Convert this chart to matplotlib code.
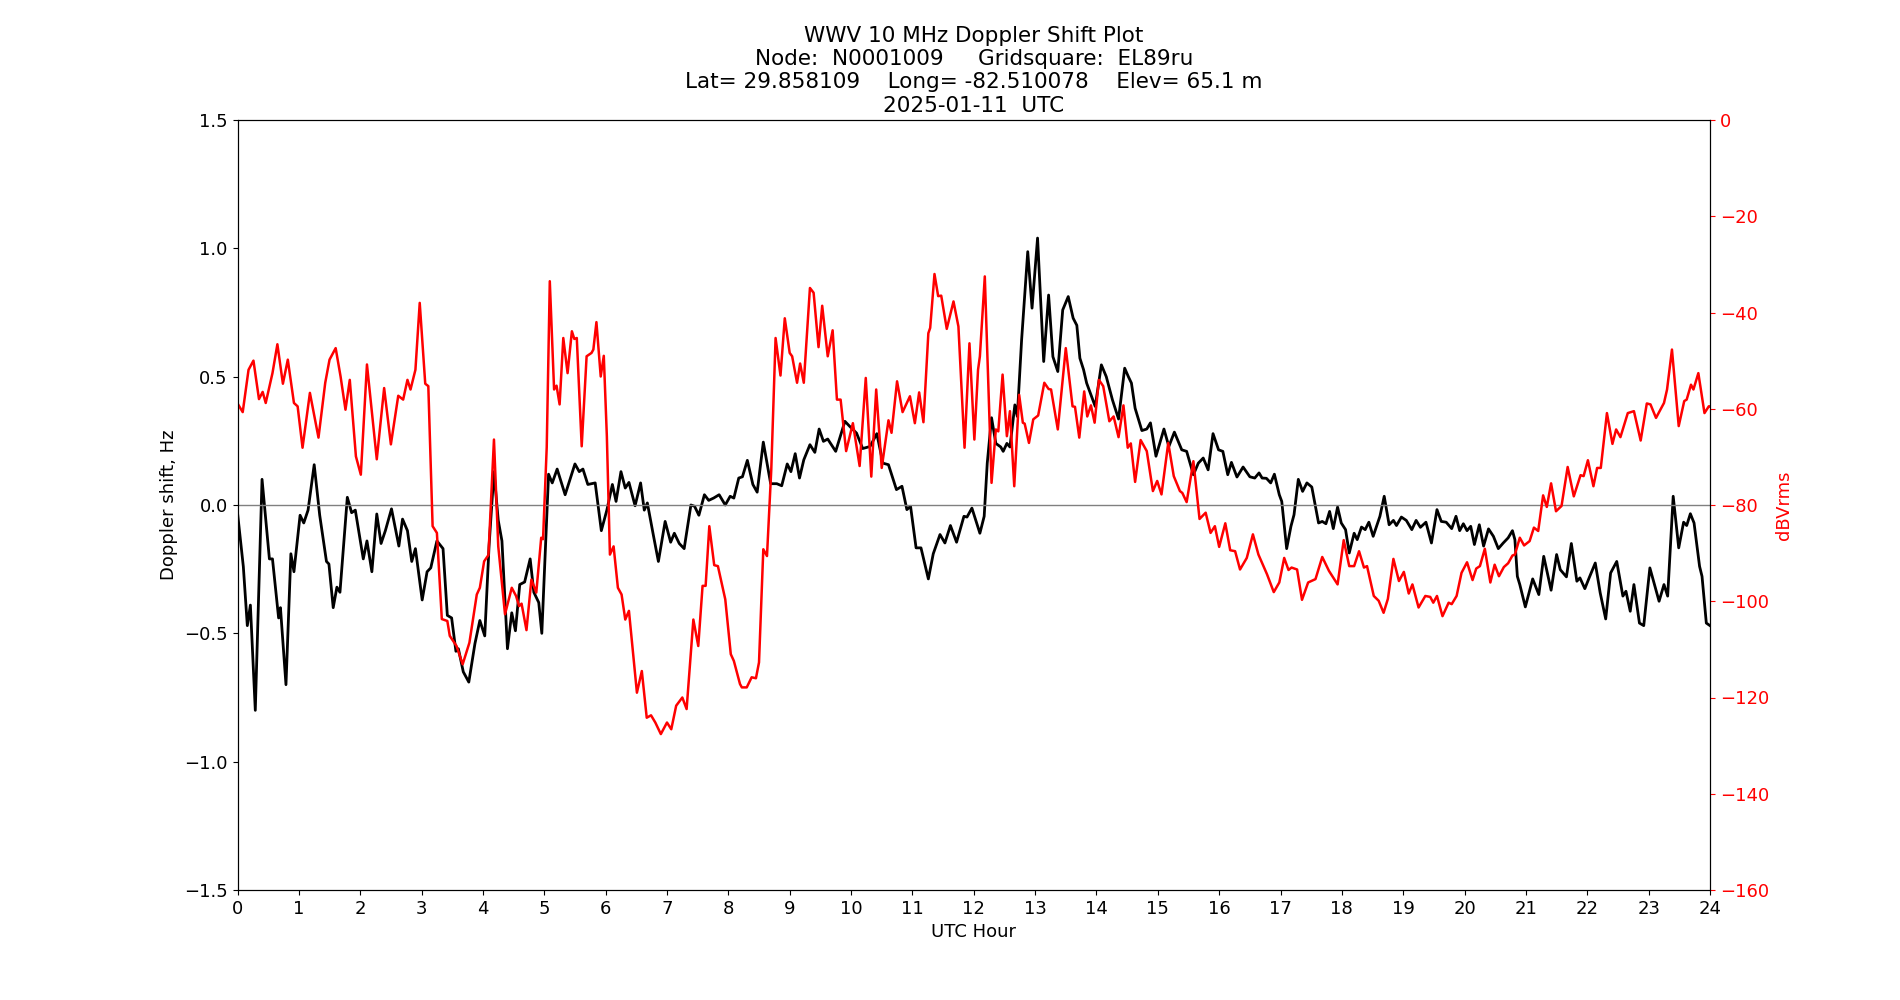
import matplotlib
matplotlib.use('Agg')
import matplotlib.pyplot as plt
import numpy as np

# doppler shift (Hz)
dop_hours = [0.0, 0.095, 0.16, 0.21, 0.29, 0.40, 0.52, 0.57, 0.67, 0.70, 0.79, 0.87, 0.92,
             1.02, 1.08, 1.15, 1.25, 1.34, 1.45, 1.49, 1.56, 1.62, 1.67, 1.79, 1.86, 1.92,
             2.05, 2.11, 2.19, 2.27, 2.34, 2.41, 2.51, 2.63, 2.69, 2.77, 2.84, 2.90,
             3.01, 3.09, 3.15, 3.25, 3.35, 3.42, 3.49, 3.56, 3.60, 3.68, 3.77, 3.87, 3.95,
             4.03, 4.10, 4.18, 4.25, 4.31, 4.40, 4.47, 4.53, 4.60, 4.68, 4.77, 4.83, 4.91, 4.96,
             5.07, 5.13, 5.21, 5.34, 5.50, 5.57, 5.63, 5.71, 5.83, 5.93,
             6.02, 6.11, 6.17, 6.25, 6.32, 6.38, 6.48, 6.57, 6.63, 6.68, 6.78, 6.86, 6.97,
             7.06, 7.12, 7.20, 7.28, 7.39, 7.45, 7.52, 7.61, 7.68, 7.76, 7.85, 7.95,
             8.03, 8.09, 8.17, 8.23, 8.31, 8.40, 8.47, 8.57, 8.69, 8.79, 8.87, 8.96,
             9.02, 9.09, 9.16, 9.23, 9.33, 9.41, 9.48, 9.55, 9.62, 9.75, 9.90, 9.98,
             10.09, 10.19, 10.31, 10.42, 10.52, 10.61, 10.74, 10.83, 10.91, 10.97,
             11.06, 11.14, 11.26, 11.34, 11.45, 11.53, 11.62, 11.72, 11.84, 11.89, 11.97,
             12.10, 12.17, 12.22, 12.29, 12.36, 12.44, 12.48, 12.54, 12.59, 12.67, 12.71, 12.78, 12.88, 12.95,
             13.04, 13.14, 13.22, 13.29, 13.37, 13.45, 13.54, 13.62, 13.68, 13.73, 13.79, 13.84, 13.98,
             14.08, 14.16, 14.26, 14.36, 14.46, 14.52, 14.57, 14.63, 14.74, 14.82, 14.88, 14.97,
             15.10, 15.18, 15.27, 15.39, 15.47, 15.58, 15.66, 15.74, 15.82, 15.90, 15.99,
             16.06, 16.14, 16.20, 16.29, 16.39, 16.50, 16.58, 16.65, 16.70, 16.77, 16.84, 16.90, 16.98,
             17.02, 17.10, 17.17, 17.22, 17.29, 17.36, 17.43, 17.51, 17.62, 17.68, 17.74, 17.80, 17.86, 17.93, 17.99,
             18.06, 18.12, 18.20, 18.25, 18.32, 18.38, 18.44, 18.51, 18.62, 18.69, 18.77, 18.84, 18.89, 18.97,
             19.05, 19.14, 19.21, 19.28, 19.37, 19.46, 19.55, 19.62, 19.70, 19.79, 19.86, 19.92, 19.98,
             20.04, 20.10, 20.16, 20.24, 20.31, 20.39, 20.47, 20.55, 20.63, 20.71, 20.78, 20.82, 20.86, 20.90, 20.99,
             21.11, 21.21, 21.29, 21.41, 21.50, 21.56, 21.66, 21.74, 21.83, 21.88, 21.96,
             22.03, 22.13, 22.21, 22.30, 22.38, 22.48, 22.58, 22.63, 22.70, 22.76, 22.85, 22.92,
             23.02, 23.17, 23.25, 23.31, 23.40, 23.49, 23.57, 23.62, 23.68, 23.74, 23.83, 23.87, 23.94, 24.0]
dop_hz = [-0.03, -0.24, -0.47, -0.39, -0.80, 0.10, -0.21, -0.21, -0.44, -0.40, -0.70, -0.19, -0.26,
          -0.04, -0.07, -0.02, 0.157, -0.04, -0.22, -0.23, -0.40, -0.32, -0.34, 0.03, -0.03, -0.02,
          -0.21, -0.14, -0.26, -0.035, -0.15, -0.10, -0.015, -0.16, -0.055, -0.10, -0.22, -0.17,
          -0.37, -0.26, -0.245, -0.14, -0.17, -0.43, -0.44, -0.57, -0.56, -0.65, -0.69, -0.54, -0.45,
          -0.51, -0.16, 0.13, -0.06, -0.14, -0.56, -0.42, -0.49, -0.31, -0.30, -0.21, -0.34, -0.38, -0.50,
          0.12, 0.086, 0.14, 0.04, 0.16, 0.13, 0.14, 0.08, 0.086, -0.10,
          -0.02, 0.08, 0.014, 0.13, 0.066, 0.088, -0.003, 0.086, -0.02, 0.008, -0.12, -0.22, -0.064,
          -0.145, -0.11, -0.15, -0.17, 0.0, -0.005, -0.04, 0.04, 0.018, 0.027, 0.04, 0.0,
          0.034, 0.027, 0.105, 0.11, 0.174, 0.08, 0.05, 0.245, 0.083, 0.083, 0.075, 0.16,
          0.13, 0.20, 0.105, 0.176, 0.235, 0.205, 0.296, 0.248, 0.257, 0.209, 0.326, 0.306,
          0.28, 0.22, 0.228, 0.278, 0.163, 0.157, 0.06, 0.073, -0.018, -0.005,
          -0.167, -0.167, -0.288, -0.19, -0.115, -0.148, -0.08, -0.145, -0.044, -0.047, -0.012,
          -0.11, -0.044, 0.163, 0.34, 0.24, 0.226, 0.209, 0.24, 0.226, 0.39, 0.345, 0.643, 0.987, 0.767,
          1.04, 0.559, 0.818, 0.578, 0.52, 0.76, 0.812, 0.728, 0.70, 0.572, 0.527, 0.475, 0.384,
          0.546, 0.50, 0.41, 0.335, 0.533, 0.50, 0.475, 0.377, 0.29, 0.296, 0.32, 0.19,
          0.296, 0.228, 0.284, 0.215, 0.209, 0.118, 0.163, 0.183, 0.137, 0.278, 0.215,
          0.209, 0.118, 0.166, 0.109, 0.148, 0.11, 0.105, 0.125, 0.105, 0.104, 0.086, 0.12, 0.04,
          0.014, -0.17, -0.083, -0.038, 0.10, 0.053, 0.086, 0.07, -0.07, -0.064, -0.073, -0.025, -0.092, -0.008, -0.07,
          -0.096, -0.187, -0.11, -0.135, -0.086, -0.096, -0.067, -0.122, -0.044, 0.034, -0.077, -0.06, -0.08, -0.047,
          -0.06, -0.096, -0.06, -0.087, -0.067, -0.148, -0.018, -0.064, -0.067, -0.092, -0.044, -0.10, -0.073,
          -0.10, -0.083, -0.154, -0.077, -0.16, -0.093, -0.122, -0.17, -0.148, -0.128, -0.10, -0.135, -0.278, -0.31, -0.397,
          -0.288, -0.349, -0.20, -0.332, -0.193, -0.252, -0.28, -0.15, -0.297, -0.284, -0.326,
          -0.284, -0.226, -0.342, -0.444, -0.265, -0.22, -0.355, -0.336, -0.414, -0.31, -0.46, -0.47,
          -0.245, -0.375, -0.31, -0.355, 0.034, -0.167, -0.067, -0.08, -0.034, -0.07, -0.239, -0.278, -0.46, -0.47]

# received power (dBVrms)
pwr_hours = [0.01, 0.085, 0.18, 0.26, 0.35, 0.41, 0.46, 0.57, 0.65, 0.74, 0.82, 0.92, 0.98,
             1.06, 1.18, 1.32, 1.43, 1.50, 1.60, 1.68, 1.76, 1.83, 1.93,
             2.01, 2.11, 2.27, 2.39, 2.50, 2.62, 2.70, 2.77, 2.82, 2.90, 2.97,
             3.06, 3.11, 3.18, 3.25, 3.33, 3.42, 3.46, 3.57, 3.67, 3.78, 3.90,
             3.95, 4.02, 4.09, 4.18, 4.25, 4.36, 4.47, 4.54, 4.59, 4.63, 4.71, 4.79, 4.87, 4.95, 4.98,
             5.04, 5.09, 5.16, 5.20, 5.25, 5.31, 5.38, 5.45, 5.49, 5.53, 5.61, 5.69, 5.77, 5.80, 5.85, 5.92, 5.97,
             6.02, 6.07, 6.13, 6.20, 6.26, 6.32, 6.38, 6.51, 6.59, 6.67, 6.74, 6.81, 6.90,
             7.00, 7.07, 7.15, 7.25, 7.32, 7.43, 7.51, 7.58, 7.63, 7.69, 7.77, 7.83, 7.95,
             8.04, 8.09, 8.19, 8.22, 8.30, 8.38, 8.45, 8.50, 8.57, 8.63, 8.70, 8.77, 8.85, 8.92,
             9.00, 9.04, 9.12, 9.17, 9.23, 9.33, 9.39, 9.47, 9.53, 9.62, 9.70, 9.77, 9.83, 9.92,
             10.03, 10.14, 10.24, 10.33, 10.41, 10.50, 10.61, 10.66, 10.75, 10.84, 10.96,
             11.04, 11.11, 11.18, 11.26, 11.29, 11.36, 11.42, 11.47, 11.56, 11.67, 11.75, 11.85, 11.93,
             12.01, 12.07, 12.10, 12.18, 12.29, 12.36, 12.40, 12.47, 12.54, 12.59, 12.66, 12.74, 12.80, 12.83, 12.90, 12.97,
             13.05, 13.15, 13.22, 13.26, 13.37, 13.50, 13.61, 13.65, 13.72, 13.80, 13.85, 13.91, 13.97,
             14.04, 14.11, 14.21, 14.28, 14.36, 14.44, 14.51, 14.56, 14.63, 14.72, 14.82, 14.92, 14.99,
             15.06, 15.17, 15.26, 15.36, 15.40, 15.47, 15.58, 15.68, 15.78, 15.86, 15.93,
             16.00, 16.10, 16.18, 16.26, 16.34, 16.45, 16.55, 16.64, 16.78, 16.89, 16.98,
             17.06, 17.13, 17.18, 17.27, 17.35, 17.45, 17.57, 17.68, 17.79, 17.93,
             18.03, 18.12, 18.20, 18.28, 18.36, 18.41, 18.52, 18.60, 18.68, 18.75, 18.84, 18.93,
             19.01, 19.09, 19.15, 19.25, 19.36, 19.44, 19.49, 19.55, 19.64, 19.74, 19.79, 19.87, 19.95,
             20.04, 20.13, 20.19, 20.25, 20.33, 20.42, 20.49, 20.56, 20.64, 20.71, 20.78, 20.82, 20.90, 20.97,
             21.06, 21.13, 21.20, 21.28, 21.34, 21.41, 21.49, 21.58, 21.68, 21.78, 21.89, 21.94,
             22.01, 22.10, 22.16, 22.22, 22.32, 22.41, 22.47, 22.54, 22.66, 22.76, 22.87, 22.97,
             23.03, 23.12, 23.25, 23.30, 23.38, 23.49, 23.58, 23.62, 23.69, 23.73, 23.81, 23.91, 23.98, 24.0]
pwr_db = [-59.1, -60.7, -51.9, -50.0, -58.0, -56.5, -58.8, -52.6, -46.6, -54.8, -49.8, -58.8, -59.5,
          -68.1, -56.7, -66.0, -54.6, -49.8, -47.4, -53.3, -60.2, -54.0, -69.9,
          -73.7, -50.8, -70.5, -55.7, -67.4, -57.3, -58.1, -54.0, -56.0, -51.9, -38.0,
          -54.8, -55.3, -84.4, -85.8, -103.7, -104.1, -107.2, -109.3, -113.1, -108.6, -98.6,
          -97.2, -91.7, -90.4, -66.4, -88.6, -102.7, -97.2, -98.9, -101.0, -100.5, -106.0, -95.5, -98.2, -86.8, -87.1,
          -68.0, -33.5, -56.0, -55.2, -59.1, -45.3, -52.6, -43.9, -45.5, -45.3, -67.8, -49.1, -48.4, -47.7, -42.0, -53.3, -49.0,
          -65.7, -90.3, -88.6, -97.2, -98.6, -103.8, -102.0, -119.0, -114.5, -124.2, -123.7, -125.2, -127.6,
          -125.2, -126.6, -121.7, -120.0, -122.4, -103.8, -109.3, -96.8, -96.8, -84.4, -92.5, -92.7, -99.6,
          -111.0, -112.4, -117.2, -117.9, -117.9, -115.8, -116.0, -112.7, -89.2, -90.6, -72.6, -45.3, -53.1, -41.2,
          -48.4, -49.1, -54.6, -50.6, -54.6, -34.9, -35.9, -47.2, -38.6, -49.1, -43.7, -58.1, -58.1, -68.8,
          -63.0, -71.9, -53.6, -74.1, -56.0, -72.3, -62.4, -65.0, -54.3, -60.7, -57.4,
          -63.0, -56.6, -62.8, -44.3, -43.2, -32.0, -36.6, -36.5, -43.4, -37.7, -42.9, -68.1, -46.4,
          -66.4, -51.9, -49.1, -32.5, -75.4, -64.3, -64.7, -52.9, -65.7, -60.5, -76.1, -57.1, -62.9, -63.1, -67.1, -62.2,
          -61.4, -54.6, -55.9, -56.0, -64.3, -47.4, -59.5, -59.6, -66.0, -56.4, -61.6, -59.3, -62.9,
          -54.0, -55.3, -62.6, -61.6, -65.9, -59.3, -68.1, -67.2, -75.2, -66.5, -68.8, -77.1, -75.0,
          -77.8, -67.1, -74.0, -77.1, -77.5, -79.4, -70.9, -82.9, -81.6, -85.8, -84.4,
          -88.7, -83.8, -89.4, -89.6, -93.4, -91.0, -86.1, -90.3, -94.4, -98.1, -96.1,
          -91.0, -93.5, -93.0, -93.4, -99.7, -96.1, -95.4, -90.8, -93.7, -96.5,
          -87.3, -92.7, -92.7, -89.6, -93.0, -92.7, -98.9, -99.9, -102.4, -99.5, -91.2, -95.8,
          -93.9, -98.4, -96.5, -101.3, -98.9, -99.1, -100.3, -98.9, -103.1, -100.3, -100.6, -98.9, -94.1,
          -91.9, -95.6, -93.2, -92.7, -89.1, -96.1, -92.4, -94.8, -92.9, -92.1, -90.5, -90.3, -86.8, -88.4,
          -87.5, -84.7, -85.4, -78.0, -80.4, -75.5, -81.3, -80.2, -72.1, -78.2, -73.8, -74.0,
          -70.7, -76.1, -72.3, -72.3, -60.9, -67.3, -64.3, -65.9, -60.9, -60.5, -66.6, -58.9,
          -59.1, -61.9, -58.8, -56.0, -47.7, -63.6, -58.4, -58.1, -55.0, -56.0, -52.6, -60.9, -59.5, -59.5]

title = ('WWV 10 MHz Doppler Shift Plot\n'
         'Node:  N0001009     Gridsquare:  EL89ru\n'
         'Lat= 29.858109    Long= -82.510078    Elev= 65.1 m\n'
         '2025-01-11  UTC')

fig, ax = plt.subplots(figsize=(19, 10), dpi=100)

ax.plot(dop_hours, dop_hz, color='black', linewidth=2)
ax.axhline(0, color='gray', linewidth=1)
ax.set_xlim(0, 24)
ax.set_ylim(-1.5, 1.5)
ax.set_xticks(np.arange(0, 25, 1))
ax.set_xlabel('UTC Hour', fontsize=13)
ax.set_ylabel('Doppler shift, Hz', fontsize=13)
ax.tick_params(labelsize=13)
ax.set_title(title, fontsize=15.5)

ax2 = ax.twinx()
ax2.plot(pwr_hours, pwr_db, color='red', linewidth=1.8)
ax2.set_ylim(-160, 0)
ax2.set_ylabel('dBVrms', color='red', fontsize=13)
ax2.tick_params(axis='y', colors='red', labelsize=13)

fig.savefig('out.png', dpi=100)
